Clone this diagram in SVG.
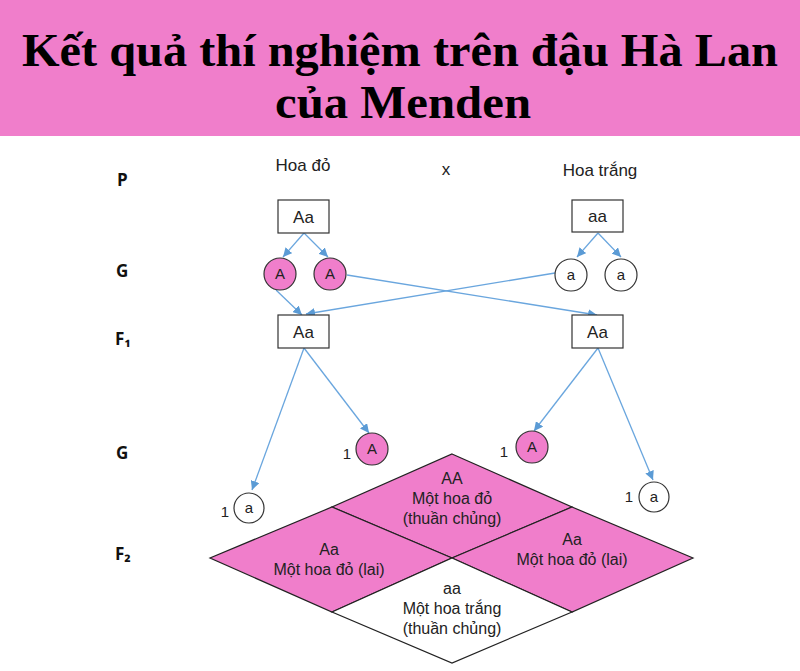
<svg xmlns="http://www.w3.org/2000/svg" width="800" height="671" viewBox="0 0 800 671">
<style>
.lbl{font-family:"Open Sans","Liberation Sans",sans-serif;font-weight:bold;font-size:17px;fill:#111}
.t{font-family:"Liberation Sans",Arial,sans-serif;font-size:16px;fill:#222;text-anchor:middle}
.tb{font-family:"Liberation Sans",Arial,sans-serif;font-size:17px;fill:#222;text-anchor:middle}
.tc{font-family:"Liberation Sans",Arial,sans-serif;font-size:15px;fill:#222;text-anchor:middle}
.box{fill:#fff;stroke:#333;stroke-width:1.2}
.cp{fill:#F07ECB;stroke:#333;stroke-width:1.2}
.cw{fill:#fff;stroke:#333;stroke-width:1.2}
.pk{fill:#F07ECB;stroke:#222;stroke-width:1.2}
.wh{fill:#fff;stroke:#222;stroke-width:1.2}
.ar{stroke:#6AA6DE;stroke-width:1.3;fill:none;marker-end:url(#ah)}
.title{font-family:"Liberation Serif","Times New Roman",serif;font-weight:bold;font-size:46px;fill:#000;text-anchor:middle}
</style>
<defs>
<marker id="ah" viewBox="0 0 10 10" refX="10" refY="5" markerWidth="9" markerHeight="9" markerUnits="userSpaceOnUse" orient="auto">
<path d="M0,0 L10,5 L0,10 z" fill="#5B9BD5"/>
</marker>
</defs>
<rect width="800" height="671" fill="#fff"/>
<g id="header">
<rect x="0" y="0" width="800" height="136" fill="#F07ECB"/>
<text class="title" x="400" y="66" textLength="756" lengthAdjust="spacingAndGlyphs">Kết quả thí nghiệm trên đậu Hà Lan</text>
<text class="title" x="403" y="118" textLength="256" lengthAdjust="spacingAndGlyphs">của Menden</text>
</g>
<g id="row-labels">
<text class="lbl" x="117" y="186">P</text>
<text class="lbl" x="116" y="277">G</text>
<text class="lbl" x="115" y="345">F₁</text>
<text class="lbl" x="116" y="459">G</text>
<text class="lbl" x="115" y="560">F₂</text>
</g>
<g id="parent-labels">
<text class="tb" x="303" y="171">Hoa đỏ</text>
<text class="tb" x="446" y="175">x</text>
<text class="tb" x="600" y="176">Hoa trắng</text>
</g>
<g id="connectors">
<line class="ar" x1="304" y1="233" x2="283" y2="257"/>
<line class="ar" x1="304" y1="233" x2="328" y2="257"/>
<line class="ar" x1="598" y1="233" x2="577" y2="257"/>
<line class="ar" x1="598" y1="233" x2="621" y2="257"/>
<line class="ar" x1="276" y1="290" x2="302" y2="315"/>
<line class="ar" x1="555" y1="273" x2="306" y2="314"/>
<line class="ar" x1="347" y1="275" x2="597" y2="315"/>
<line class="ar" x1="304" y1="348" x2="252" y2="490"/>
<line class="ar" x1="304" y1="348" x2="369" y2="433"/>
<line class="ar" x1="598" y1="348" x2="534" y2="431"/>
<line class="ar" x1="598" y1="348" x2="653" y2="480"/>
</g>
<g id="p-left"><rect class="box" x="278" y="200" width="51" height="33"/><text class="tb" x="303.5" y="223">Aa</text></g>
<g id="p-right"><rect class="box" x="572" y="200" width="51" height="32"/><text class="tb" x="597.5" y="222">aa</text></g>
<g id="g1-A1"><circle class="cp" cx="280" cy="274" r="16"/><text class="tc" x="280" y="279">A</text></g>
<g id="g1-A2"><circle class="cp" cx="330" cy="274" r="16"/><text class="tc" x="330" y="279">A</text></g>
<g id="g1-a1"><circle class="cw" cx="571" cy="275" r="16"/><text class="tc" x="571" y="280">a</text></g>
<g id="g1-a2"><circle class="cw" cx="621" cy="275" r="16"/><text class="tc" x="621" y="280">a</text></g>
<g id="f1-left"><rect class="box" x="278" y="315" width="51" height="33"/><text class="tb" x="303.5" y="338">Aa</text></g>
<g id="f1-right"><rect class="box" x="572" y="315" width="51" height="33"/><text class="tb" x="597.5" y="338">Aa</text></g>
<g id="g2-left-A"><circle class="cp" cx="372" cy="449" r="16"/><text class="tc" x="372" y="454">A</text><text class="tc" x="347" y="459">1</text></g>
<g id="g2-left-a"><circle class="cw" cx="249" cy="508" r="15"/><text class="tc" x="249" y="513">a</text><text class="tc" x="225" y="517">1</text></g>
<g id="g2-right-A"><circle class="cp" cx="532" cy="447" r="16"/><text class="tc" x="532" y="452">A</text><text class="tc" x="504" y="457">1</text></g>
<g id="g2-right-a"><circle class="cw" cx="654" cy="497" r="15"/><text class="tc" x="654" y="502">a</text><text class="tc" x="629" y="502">1</text></g>
<g id="f2-top">
<polygon class="pk" points="452,454 572,507 452,558 332,507"/>
<text class="t" x="452" y="484">AA</text>
<text class="t" x="452" y="504">Một hoa đỏ</text>
<text class="t" x="452" y="524">(thuần chủng)</text>
</g>
<g id="f2-left">
<polygon class="pk" points="332,507 452,558 332,612 210,558"/>
<text class="t" x="329" y="555">Aa</text>
<text class="t" x="329" y="575">Một hoa đỏ (lai)</text>
</g>
<g id="f2-right">
<polygon class="pk" points="572,507 693,558 572,612 452,558"/>
<text class="t" x="572" y="545">Aa</text>
<text class="t" x="572" y="565">Một hoa đỏ (lai)</text>
</g>
<g id="f2-bottom">
<polygon class="wh" points="452,558 572,612 452,663 332,612"/>
<text class="t" x="452" y="594">aa</text>
<text class="t" x="452" y="614">Một hoa trắng</text>
<text class="t" x="452" y="634">(thuần chủng)</text>
</g>
</svg>
